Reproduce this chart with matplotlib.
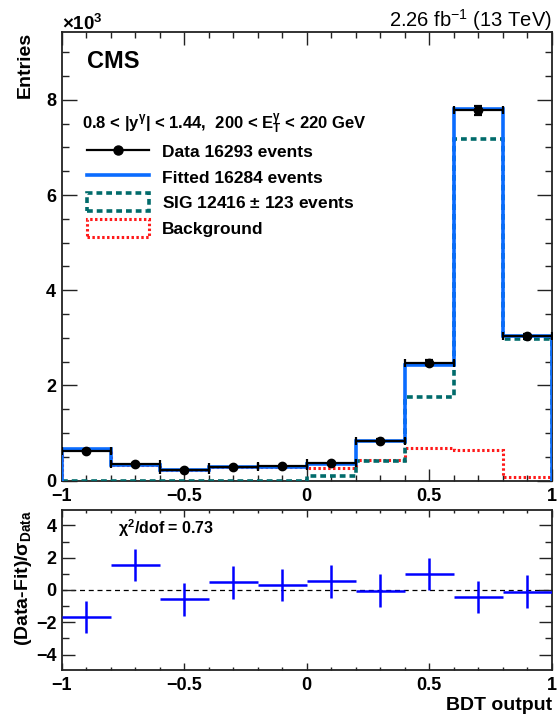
import numpy as np
import matplotlib
matplotlib.use('Agg')
import matplotlib.pyplot as plt
from matplotlib.lines import Line2D
from matplotlib.patches import Patch
from matplotlib.ticker import MultipleLocator

plt.rcParams['font.family'] = ['Liberation Sans', 'DejaVu Sans']
plt.rcParams['font.weight'] = 'bold'
plt.rcParams['mathtext.fontset'] = 'custom'
plt.rcParams['mathtext.rm'] = 'Liberation Sans:bold'
plt.rcParams['mathtext.bf'] = 'Liberation Sans:bold'
plt.rcParams['mathtext.it'] = 'Liberation Sans:bold'
plt.rcParams['mathtext.default'] = 'regular'
plt.rcParams['axes.unicode_minus'] = True

# ---------------- data ----------------
bin_edges = [-1.0, -0.8, -0.6, -0.4, -0.2, 0.0, 0.2, 0.4, 0.6, 0.8, 1.0]
data_counts = [627, 360, 222, 292, 300, 362, 840, 2480, 7780, 3030]
fit_counts = [669, 331, 231, 284, 294, 352, 841, 2431, 7817, 3036]
sig_counts = [0, 0, 0, 0, 0, 92, 405, 1765, 7180, 2975]
bkg_counts = [665, 330, 220, 280, 280, 265, 445, 690, 655, 80]
pulls = [-1.67, 1.54, -0.58, 0.47, 0.33, 0.53, -0.04, 0.98, -0.42, -0.10]

legend_labels = ['Data 16293 events', 'Fitted 16284 events',
                 r'SIG 12416 $\pm$ 123 events', 'Background']
header = r'0.8 < |y$^{\gamma}$| < 1.44,  200 < E$_{T}^{\gamma}$ < 220 GeV'

x_ticks = [-1, -0.5, 0, 0.5, 1]
x_ticklabels = ['\u22121', '\u22120.5', '0', '0.5', '1']
upper_yticks = [0, 2, 4, 6, 8]
lower_yticks = [-4, -2, 0, 2, 4]

# ---------------- styles ----------------
W, H = 559, 715
fit_color = '#0a6cff'
sig_color = '#006b6b'
bkg_color = '#ff1a1a'
pull_color = '#0000ff'
sig_ls = (0, (1.6, 1.1))
bkg_ls = (0, (0.8, 0.8))

edges = np.array(bin_edges)
centers = 0.5 * (edges[:-1] + edges[1:])
halfw = 0.5 * (edges[1:] - edges[:-1])
scale = 1e-3
data = np.array(data_counts, float)
fit = np.array(fit_counts, float)
sig = np.array(sig_counts, float)
bkg = np.array(bkg_counts, float)

fig = plt.figure(figsize=(W / 100, H / 100), dpi=100)


def fx(x):
    return x / W


def fy(y):
    return 1 - y / H


ax1 = fig.add_axes([fx(61.7), fy(480.7), fx(551.7) - fx(61.7), fy(32.3) - fy(480.7)])
ax2 = fig.add_axes([fx(61.7), fy(670), fx(551.7) - fx(61.7), fy(510) - fy(670)])

# upper panel
ax1.stairs(bkg * scale, edges, baseline=0, color=bkg_color, lw=2.2,
           linestyle=bkg_ls, zorder=2)
ax1.stairs(sig * scale, edges, baseline=0, color=sig_color, lw=2.6,
           linestyle=sig_ls, zorder=3)
ax1.stairs(fit * scale, edges, baseline=0, color=fit_color, lw=2.6, zorder=4)
ax1.errorbar(centers, data * scale, xerr=halfw, yerr=np.sqrt(data) * scale,
             fmt='o', color='black', ms=6, elinewidth=1.6, capsize=2.6,
             capthick=1.6, zorder=5)

ax1.set_xlim(-1, 1)
ax1.set_ylim(0, 9.42)

# lower panel
ax2.axhline(0, color='black', lw=0.9, ls=(0, (4, 3)), zorder=1)
ax2.errorbar(centers, pulls, xerr=halfw, yerr=1.0, fmt='none',
             ecolor=pull_color, elinewidth=1.8, capsize=0, zorder=3)
ax2.set_xlim(-1, 1)
ax2.set_ylim(-4.95, 4.95)

for ax in (ax1, ax2):
    ax.set_xticks(x_ticks)
    ax.set_xticklabels(x_ticklabels)
    ax.xaxis.set_minor_locator(MultipleLocator(0.1))
    for s in ax.spines.values():
        s.set_linewidth(1.3)
        s.set_color('#222222')
    ax.tick_params(which='both', direction='in', top=True, right=True,
                   labelsize=13, width=1.0, color='#222222')

ax1.set_yticks(upper_yticks)
ax1.set_yticklabels([str(v) for v in upper_yticks])
ax1.yaxis.set_minor_locator(MultipleLocator(0.5))
ax1.tick_params(axis='y', which='major', length=10.5, pad=4)
ax1.tick_params(axis='y', which='minor', length=5.3)
ax1.tick_params(axis='x', which='major', length=9, pad=5)
ax1.tick_params(axis='x', which='minor', length=4.5)

ax2.set_yticks(lower_yticks)
ax2.set_yticklabels([('\u2212' + str(-v)) if v < 0 else str(v) for v in lower_yticks])
ax2.yaxis.set_minor_locator(MultipleLocator(1))
ax2.tick_params(axis='y', which='major', length=9.5, pad=3.5)
ax2.tick_params(axis='y', which='minor', length=5)
ax2.tick_params(axis='x', which='major', length=5, pad=5)
ax2.tick_params(axis='x', which='minor', length=2.5)

# texts
fig.text(fx(87), fy(67.7), 'CMS', fontsize=17, fontweight='bold', va='baseline', ha='left')
fig.text(fx(551.7), fy(27), r'2.26 fb$^{-1}$ (13 TeV)', fontsize=14.5,
         fontweight='normal', va='baseline', ha='right')
fig.text(fx(62), fy(30), r'$\times$10$^{3}$', fontsize=13.5, fontweight='bold',
         va='baseline', ha='left')
fig.text(fx(25.5), fy(32), 'Entries', fontsize=14, fontweight='bold',
         rotation=90, ha='center', va='top')
fig.text(fx(24), fy(510), r'(Data-Fit)/$\sigma_{Data}$', fontsize=14,
         fontweight='bold', rotation=90, ha='center', va='top')
fig.text(fx(551.7), fy(710), 'BDT output', fontsize=14, fontweight='bold',
         ha='right', va='baseline')
fig.text(fx(118), fy(534), r'$\chi^{2}$/dof = 0.73', fontsize=11.5,
         fontweight='bold', ha='left', va='baseline')
fig.text(fx(81.7), fy(128.3), header, fontsize=12, fontweight='bold',
         ha='left', va='baseline')

handles = [
    Line2D([], [], color='black', lw=1.6, marker='o', ms=6.5),
    Line2D([], [], color=fit_color, lw=2.6),
    Patch(facecolor='none', edgecolor=sig_color, lw=2.6, linestyle=sig_ls),
    Patch(facecolor='none', edgecolor=bkg_color, lw=2.2, linestyle=bkg_ls),
]
leg = ax1.legend(handles, legend_labels, loc='upper left',
                 bbox_to_anchor=(fx(86.7), fy(142.5)), bbox_transform=fig.transFigure,
                 frameon=False, borderpad=0, borderaxespad=0,
                 handlelength=3.6, handleheight=1.2, handletextpad=0.75,
                 labelspacing=0.44, numpoints=1,
                 prop={'weight': 'bold', 'size': 12.5})

fig.savefig('out.png', dpi=100)
